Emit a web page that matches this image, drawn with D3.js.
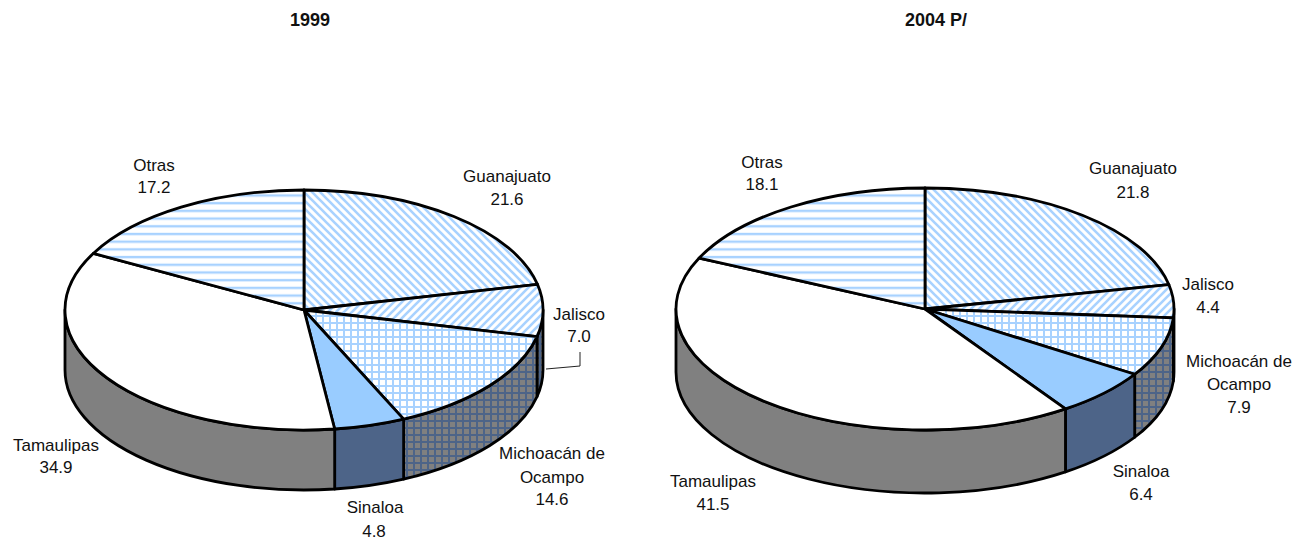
<!DOCTYPE html>
<html>
<head>
<meta charset="utf-8">
<script src="https://cdn.jsdelivr.net/npm/d3@7"></script>
<style>
  html, body { margin: 0; padding: 0; background: #fff; }
  text { font-family: "Liberation Sans", Arial, sans-serif; fill: #111; }
</style>
</head>
<body>
<div id="chart"></div>
<script>
const categories = ["Guanajuato", "Jalisco", "Michoacán de Ocampo", "Sinaloa", "Tamaulipas", "Otras"];
const values1999 = [21.6, 7.0, 14.6, 4.8, 34.9, 17.2];
const values2004 = [21.8, 4.4, 7.9, 6.4, 41.5, 18.1];
const titles = ["1999", "2004 P/"];

const topFills = ["url(#pGuan)", "url(#pJal)", "url(#pMich)", "#99ccff", "#ffffff", "url(#pOtras)"];
const sideFills = ["#808080", "url(#sJal)", "url(#sMich)", "#4d6488", "#808080", "#808080"];

// label centres, x + baseline y per line of text
const labels1999 = [
    { x: 507, y: 182, t: "Guanajuato" }, { x: 507, y: 205, t: "21.6" },
    { x: 579, y: 320, t: "Jalisco" }, { x: 579, y: 342, t: "7.0" },
    { x: 552, y: 459, t: "Michoacán de" }, { x: 552, y: 483, t: "Ocampo" }, { x: 552, y: 505, t: "14.6" },
    { x: 375, y: 513, t: "Sinaloa" }, { x: 374, y: 537, t: "4.8" },
    { x: 56, y: 451, t: "Tamaulipas" }, { x: 56, y: 473, t: "34.9" },
    { x: 154, y: 171, t: "Otras" }, { x: 154, y: 193, t: "17.2" }
];
const labels2004 = [
    { x: 1133, y: 174, t: "Guanajuato" }, { x: 1133, y: 198, t: "21.8" },
    { x: 1208, y: 290, t: "Jalisco" }, { x: 1208, y: 313, t: "4.4" },
    { x: 1239, y: 367, t: "Michoacán de" }, { x: 1239, y: 390, t: "Ocampo" }, { x: 1239, y: 413, t: "7.9" },
    { x: 1141, y: 477, t: "Sinaloa" }, { x: 1141, y: 500, t: "6.4" },
    { x: 713, y: 487, t: "Tamaulipas" }, { x: 713, y: 510, t: "41.5" },
    { x: 762, y: 168, t: "Otras" }, { x: 762, y: 190, t: "18.1" }
];

const svg = d3.select("#chart").append("svg")
    .attr("width", 1304)
    .attr("height", 540)
    .style("display", "block");

const defs = svg.append("defs");

function hatch(id, size, bg, color, width, paths) {
    const p = defs.append("pattern")
        .attr("id", id)
        .attr("patternUnits", "userSpaceOnUse")
        .attr("width", size)
        .attr("height", size);
    p.append("rect").attr("width", size).attr("height", size).attr("fill", bg);
    p.append("path").attr("d", paths).attr("stroke", color).attr("stroke-width", width).attr("fill", "none");
}

hatch("pGuan", 8, "#fff", "#a8d2ff", 2.6, "M-2,-2L10,10M-2,6L2,10M6,-2L10,2");
hatch("pJal", 8, "#fff", "#a8d2ff", 2.6, "M-2,10L10,-2M-2,2L2,-2M6,10L10,6");
hatch("pMich", 7, "#fff", "#a8d2ff", 2, "M1,0V7M0,1H7");
hatch("pOtras", 7.7, "#fff", "#a8d2ff", 2.4, "M0,3H7.7");
hatch("sMich", 7, "#808080", "#4d6488", 2, "M1,0V7M0,1H7");
hatch("sJal", 7, "#808080", "#4d6488", 2, "M1,0V7M0,1H7");

const pie = d3.pie().sort(null).value(d => d);

function drawPie(values, cx, cy, rx, ry, depth, title, titleX, labels) {
    const g = svg.append("g");
    const px = a => cx + rx * Math.sin(a);
    const py = a => cy - ry * Math.cos(a);
    const arcs = pie(values);

    // walls only on the front half of the ellipse
    arcs.forEach((d, i) => {
        const a = Math.max(d.startAngle, Math.PI / 2);
        const b = Math.min(d.endAngle, Math.PI * 1.5);
        if (b <= a) return;
        const large = b - a > Math.PI ? 1 : 0;
        g.append("path")
            .attr("d", `M${px(a)},${py(a)}A${rx},${ry} 0 ${large} 1 ${px(b)},${py(b)}` +
                `L${px(b)},${py(b) + depth}A${rx},${ry} 0 ${large} 0 ${px(a)},${py(a) + depth}Z`)
            .attr("fill", sideFills[i])
            .attr("stroke", "#000")
            .attr("stroke-width", 2.8)
            .attr("stroke-linejoin", "round");
    });

    arcs.forEach((d, i) => {
        const a = d.startAngle, b = d.endAngle;
        const large = b - a > Math.PI ? 1 : 0;
        g.append("path")
            .attr("d", `M${cx},${cy}L${px(a)},${py(a)}A${rx},${ry} 0 ${large} 1 ${px(b)},${py(b)}Z`)
            .attr("fill", topFills[i])
            .attr("stroke", "#000")
            .attr("stroke-width", 2.8)
            .attr("stroke-linejoin", "round");
    });

    g.append("text")
        .attr("x", titleX)
        .attr("y", 26)
        .attr("text-anchor", "middle")
        .style("font-weight", "bold")
        .style("font-size", "18px")
        .text(title);

    g.selectAll(".lab")
        .data(labels)
        .enter()
        .append("text")
        .attr("class", "lab")
        .attr("x", d => d.x)
        .attr("y", d => d.y)
        .attr("text-anchor", "middle")
        .style("font-size", "17px")
        .text(d => d.t);
}

drawPie(values1999, 304, 310, 239, 120, 60, titles[0], 310, labels1999);
drawPie(values2004, 925, 309, 249, 121, 63, titles[1], 936, labels2004);

// Jalisco leader line on the 1999 pie
svg.append("path")
    .attr("d", "M546,369L580,366V352")
    .attr("fill", "none")
    .attr("stroke", "#222")
    .attr("stroke-width", 1);
</script>
</body>
</html>
